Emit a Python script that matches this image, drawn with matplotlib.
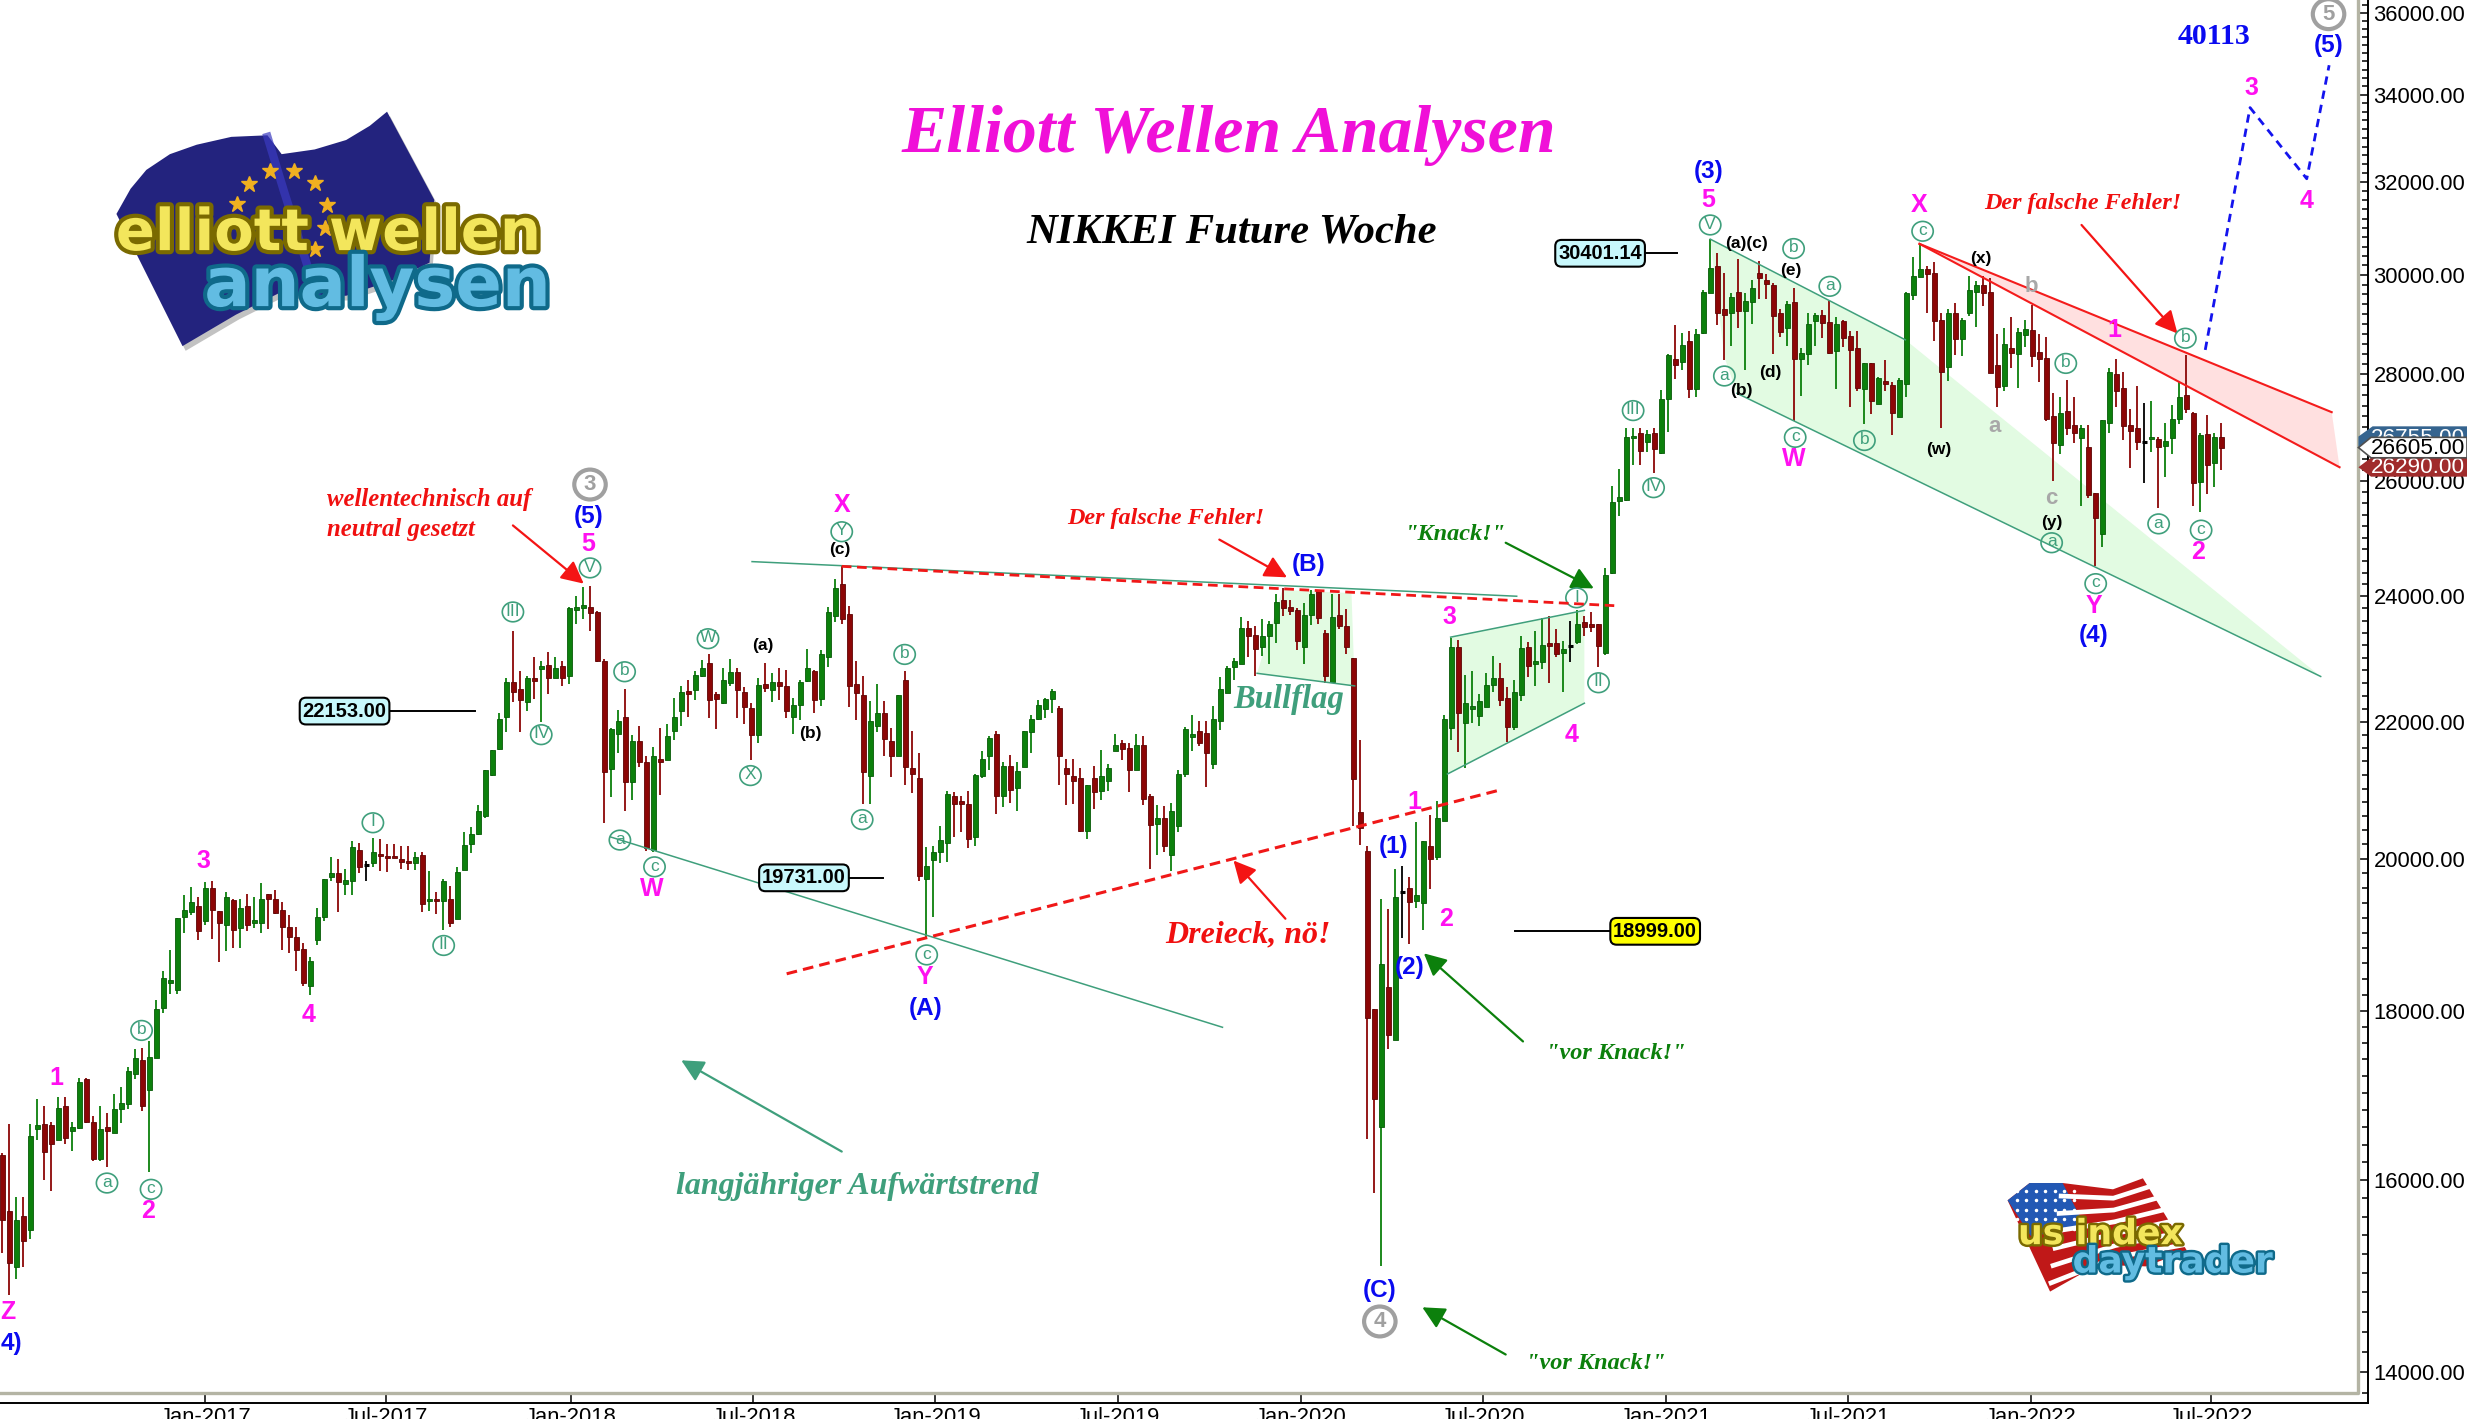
import numpy as np
import matplotlib
matplotlib.use("Agg")
import matplotlib.pyplot as plt
import matplotlib.patheffects as pe
from matplotlib.lines import Line2D
from matplotlib.patches import Polygon, Ellipse, FancyArrowPatch, FancyBboxPatch
from matplotlib.ticker import FixedLocator, NullFormatter, FuncFormatter
from matplotlib.transforms import Affine2D

# weekly candles
opens = [
    16285,15665,15068,15605,15452,16574,16637,16624,16457,16846,
    16556,16587,17158,16660,16231,16605,16533,16814,16873,17225,
    17387,17033,17417,18030,18345,18254,19203,19273,19353,19155,
    19599,19289,19107,19433,19059,19353,19123,19128,19519,19449,
    19305,19075,18949,18787,18305,18898,19203,19743,19802,19653,
    19701,20123,19915,19936,20067,20045,20045,19995,19973,19936,
    20050,19417,19449,19417,19449,19176,19845,20207,20347,20600,
    21204,21592,22078,22614,22505,22296,22671,22818,22886,22682,
    22865,22704,23777,23804,23826,23744,22948,21294,21816,22068,
    21100,21701,21393,20124,21438,21418,21861,22161,22473,22484,
    22704,22912,22432,22281,22598,22776,22452,22208,21791,22588,
    22489,22614,22557,22078,22250,22630,22786,22354,23016,23668,
    24204,23712,22588,22406,21189,21940,22125,21701,21478,22641,
    21309,21149,19720,19982,20100,20228,20890,20823,20771,20305,
    21179,21478,21811,20886,21339,21005,21318,21836,22047,22192,
    22354,22208,21309,21179,21154,20386,21149,20971,21105,21552,
    21677,21597,21269,21647,20895,20495,20576,20052,20457,21214,
    21761,21856,21826,21368,22016,22442,22850,22896,23479,23364,
    23177,23353,23560,23940,23820,23777,23177,23696,24096,23397,
    22619,23685,23516,23000,20662,20108,18023,16597,18299,17630,
    19550,19596,19427,19391,20172,20025,20535,21900,23174,21980,
    22189,22084,22224,22573,22672,22364,21920,22413,23167,22902,
    22923,23232,23232,23072,23180,23247,23572,23543,23551,23081,
    24390,25639,25663,26785,26877,26723,26877,26521,27516,28309,
    28250,28658,27713,28809,29623,30197,29301,29226,29651,29267,
    29452,30049,29897,29801,29226,28915,29438,28296,28401,29060,
    29171,29041,28467,29048,28757,28513,27713,28217,27433,27866,
    27796,27191,27809,29589,29952,30127,30049,29075,28152,29219,
    28704,29226,29658,29795,29651,28178,27777,28513,28395,28776,
    28868,28447,28316,27197,26657,27296,27032,26797,26631,25781,
    25053,27064,28000,27732,27032,26969,26720,26766,26772,26650,
    26785,27140,27599,27268,25988,26865,26332,26803,
]
closes = [
    15567,15106,15567,15332,16502,16619,16316,16411,16823,16475,
    16601,17134,16660,16231,16583,16551,16805,16882,17263,17411,
    16850,17431,18025,18411,18386,19193,19305,19407,19016,19599,
    19299,19128,19476,19032,19332,19107,19166,19449,19444,19267,
    19080,18944,18777,18345,18630,19214,19717,19802,19679,19706,
    20168,19883,19915,20095,20034,20006,20012,19957,19936,20022,
    19385,19449,19417,19690,19134,19813,20196,20353,20671,21269,
    21567,22042,22619,22458,22328,22682,22624,22865,22682,22834,
    22682,23804,23820,23853,23717,22948,21239,21890,22016,21100,
    21701,21398,20148,21488,21393,21786,22078,22452,22432,22723,
    22834,22328,22354,22641,22776,22489,22224,21791,22567,22520,
    22614,22546,22161,22260,22619,22834,22328,23054,23738,24147,
    23630,22546,22437,21239,22016,22125,21736,21478,22406,21318,
    21214,19766,19900,20095,20267,20919,20776,20776,20281,21204,
    21438,21756,20886,21339,20981,21259,21856,22042,22260,22348,
    22478,21478,21214,21105,20395,21045,20957,21179,21309,21642,
    21587,21269,21647,20852,20481,20576,20181,20671,21219,21890,
    21806,21677,21528,22042,22504,22834,22948,23479,23353,23141,
    23342,23543,23913,23804,23750,23272,23685,24040,23641,22702,
    23652,23516,23177,21139,20433,17912,16929,18587,17695,19476,
    19550,19415,19500,20248,19994,20580,22035,23174,22132,22286,
    22237,22314,22559,22672,22329,21920,22454,23152,22874,22944,
    23196,23189,23065,23138,23180,23536,23500,23500,23189,24362,
    25633,25722,26815,26834,26558,26870,26588,27528,28382,28191,
    28586,27720,28790,29651,30156,29226,29185,29548,29267,29466,
    29726,29945,29808,29164,28842,29404,28296,28415,29000,29178,
    29020,28428,29007,28711,28480,27745,28217,27478,27924,27815,
    27255,27892,29623,29973,30120,30021,29060,28050,29226,28704,
    29075,29686,29795,29637,28020,27752,28592,28428,28829,28901,
    28362,28296,27140,26688,27264,26985,26877,26969,25752,25337,
    27127,28038,27688,27013,26920,26723,26720,26803,26631,26741,
    27153,27560,27331,25957,26846,26301,26803,26601,
]
highs = [
    16300,16637,15808,15808,16637,16927,16841,16655,16945,16945,
    16660,17177,17177,16723,16846,16765,16986,17072,17306,17521,
    17536,17622,18137,18498,18767,19193,19503,19615,19476,19674,
    19690,19289,19545,19449,19449,19524,19476,19669,19524,19572,
    19407,19241,19070,18858,18676,19332,19728,20027,19995,19856,
    20252,20218,19968,20297,20274,20202,20202,20174,20174,20095,
    20095,19829,19545,19728,19621,19888,20370,20454,20766,21279,
    21567,22130,22676,23434,22780,22713,23005,22938,23087,23005,
    22938,23820,24005,24153,24181,23761,22974,21905,22182,22504,
    21801,21935,21488,21612,21906,21963,22364,22556,22644,22780,
    22964,23054,22464,22834,22974,22834,22536,22286,22671,22917,
    22755,22839,22807,22364,22650,23141,22807,23114,23820,24294,
    24520,23831,22948,22702,22322,22588,22312,21906,22406,22780,
    21856,21518,20162,20176,20466,20971,20948,20885,20971,21219,
    21548,21786,21856,21389,21493,21393,21856,22094,22338,22364,
    22504,22234,21438,21438,21299,21045,21339,21567,21364,21811,
    21726,21677,21811,21776,20919,20766,20743,20790,21269,21910,
    22094,22011,22006,22234,22687,22860,23000,23652,23598,23505,
    23625,23598,24034,24136,23940,23804,23885,24108,24108,23451,
    24034,24034,23793,23000,21726,20185,18023,19452,19313,19855,
    19903,19753,20516,20248,20618,20822,22105,23319,23283,22721,
    22779,22433,22758,23029,22909,22538,22643,23341,23247,23428,
    23645,23681,23464,23261,23594,23768,23681,23739,23551,24475,
    25911,26227,26969,26969,26969,26938,26969,27701,28401,28967,
    28824,28863,28895,29692,30753,30458,30049,29623,30345,29623,
    29900,30303,30021,29829,29295,29473,29726,28513,29226,29226,
    29281,29473,29144,29075,28862,28862,28230,28230,27955,28283,
    27853,27924,29658,30387,30655,30197,30268,29226,29295,29432,
    29110,29979,29884,29979,29932,28797,28908,29137,28908,29075,
    29384,28790,28730,27637,27560,27893,27560,27032,27032,25781,
    27127,28130,28309,28038,27331,27777,27452,27490,26803,27064,
    27413,27847,28382,27280,26877,27230,26877,27064,
]
lows = [
    15213,14770,14936,15068,15354,16457,16005,15876,16457,16407,
    16330,16578,16651,16212,16212,16149,16533,16651,16814,17162,
    16792,16090,17417,17966,18213,18213,18990,19235,18898,19107,
    18919,18620,18757,18797,18797,19016,19059,18990,19054,19246,
    18772,18736,18503,18305,18193,18843,19155,19690,19273,19503,
    19503,19808,19695,19883,19829,19824,20006,19856,19845,19851,
    19273,19294,19246,19032,19080,19176,19845,20084,20328,20576,
    21189,21577,21836,22296,21836,22156,22350,21995,22432,22682,
    22546,22589,23548,23630,23434,22922,20505,20876,21518,20676,
    20829,21318,20109,20100,20900,21418,21726,21937,22078,22328,
    22693,22052,21890,22271,22546,22052,21970,21418,21676,22452,
    22296,22328,22052,21811,22026,22619,22130,22234,22844,23576,
    23548,22218,22026,20776,20776,21841,21478,21164,21478,21055,
    20929,19689,18927,19203,19937,19960,20305,20371,20157,20181,
    21154,21269,20633,20728,20795,20681,21318,21528,22026,22052,
    22130,21055,20757,20776,20371,20276,20705,20829,20971,21552,
    21428,20957,21269,20757,19860,20050,20100,19838,20371,21169,
    21562,21627,21030,21289,21865,22442,22650,22896,23005,22704,
    23026,22896,23233,23668,23696,23125,22896,23533,23548,22598,
    22619,23467,23060,20457,20195,16469,15860,15073,17521,17630,
    18925,18845,19331,19040,19584,19982,20535,21727,21547,21300,
    21980,21927,22224,22461,22237,21687,21867,22322,22692,22552,
    22818,22594,23007,22461,22923,23211,23355,23406,22847,23043,
    24373,25385,25645,26294,26294,26527,26141,26496,26908,27911,
    28084,27541,27573,28790,29623,28974,28283,28559,28908,28085,
    29007,29514,29500,28395,28743,28566,27108,27586,28191,28566,
    28711,28401,27713,28533,27382,27688,27045,27242,27433,27688,
    26847,27178,27573,29486,29952,29226,28658,26980,27881,28382,
    28363,29164,28934,29370,28020,27382,27682,28118,27745,28533,
    28151,27847,27114,26006,26495,26847,26693,25545,25705,24503,
    24842,26877,27382,26755,26245,26570,25959,26527,25515,26080,
    26496,27045,27255,25545,25455,25764,25888,26209,
]

tick_pos = [29, 54.8, 81.2, 107.3, 133.3, 159.4, 185.5, 211.5, 237.6, 263.7, 289.8, 315.5]
tick_names = ["Jan-2017", "Jul-2017", "Jan-2018", "Jul-2018", "Jan-2019", "Jul-2019",
              "Jan-2020", "Jul-2020", "Jan-2021", "Jul-2021", "Jan-2022", "Jul-2022"]
price_ticks = [14000, 16000, 18000, 20000, 22000, 24000, 26000, 28000, 30000, 32000, 34000, 36000]

# projected path after wave 2
fc_idx = [314.7, 321.1, 329.2, 332.4]
fc_val = [28480, 33700, 32075, 34707]

# labels, positions in the 1568x902 picture
circled = [(68,752,"a"),(90,655,"b"),(96,756,"c"),(237,523,"I"),(282,601,"II"),(326,389,"III"),
           (344,467,"IV"),(375,361,"V"),(394,534,"a"),(397,427,"b"),(416,551,"c"),(450,406,"W"),
           (477,493,"X"),(535,338,"Y"),(548,521,"a"),(575,416,"b"),(589,607,"c"),(1002,380,"I"),
           (1016,434,"II"),(1038,261,"III"),(1051,310,"IV"),(1087,143,"V"),(1096,239,"a"),
           (1140,158,"b"),(1141,278,"c"),(1163,182,"a"),(1185,280,"b"),(1222,147,"c"),
           (1304,345,"a"),(1313,231,"b"),(1332,371,"c"),(1372,333,"a"),(1389,215,"b"),(1399,337,"c")]
blue_lbl = [(374,327,"(5)"),(588,640,"(A)"),(832,358,"(B)"),(886,537,"(1)"),(896,614,"(2)"),
            (877,819,"(C)"),(1086,108,"(3)"),(1331,403,"(4)"),(1480,28,"(5)"),(7,853,"4)")]
magenta_lbl = [(5,833,"Z"),(36,684,"1"),(94,769,"2"),(129,546,"3"),(196,644,"4"),(374,345,"5"),
               (535,320,"X"),(414,564,"W"),(588,620,"Y"),(899,509,"1"),(919,583,"2"),(921,391,"3"),
               (999,466,"4"),(1086,126,"5"),(1140,291,"W"),(1220,129,"X"),(1331,384,"Y"),
               (1344,209,"1"),(1397,350,"2"),(1431,55,"3"),(1466,127,"4")]
black_lbl = [(485,409,"(a)"),(515,465,"(b)"),(534,348,"(c)"),(1110,154,"(a)(c)"),(1138,171,"(e)"),
             (1125,236,"(d)"),(1107,247,"(b)"),(1259,163,"(x)"),(1232,285,"(w)"),(1304,331,"(y)")]
grey_lbl = [(1291,181,"b"),(1268,270,"a"),(1304,316,"c")]
grey_ring = [(375,308,"3"),(877,840,"4"),(1480,9,"5")]
price_boxes = [(219,452,"22153.00","#c8f8fc",302),(511,558,"19731.00","#c8f8fc",561),
               (1052,592,"18999.00","#ffff00",963),(1017,161,"30401.14","#c8f8fc",1066)]

GREEN = "#0c800c"
RED = "#8c0606"
MINT = "#3f9f7c"

fig = plt.figure(figsize=(24.67, 14.19), dpi=100, facecolor="white")
ax = fig.add_axes([0, 16.3/1419, 2368/2467, 1402.7/1419])
ax.patch.set_visible(False)
pic = Affine2D().scale(1/1568, -1/902).translate(0, 1) + fig.transFigure

x = np.arange(len(opens))
o = np.array(opens, float)
c = np.array(closes, float)
h = np.array(highs, float)
l = np.array(lows, float)
up = c > o
down = c < o
flat = c == o

ax.vlines(x[up], l[up], h[up], color=GREEN, lw=1.3, capstyle="butt", zorder=2)
ax.vlines(x[down], l[down], h[down], color=RED, lw=1.3, capstyle="butt", zorder=2)
ax.vlines(x[flat], l[flat], h[flat], color="black", lw=1.3, capstyle="butt", zorder=2)
ax.bar(x[up], (c - o)[up], bottom=o[up], width=0.7, color=GREEN, edgecolor="#075a07", lw=0.6, zorder=3)
ax.bar(x[down], (o - c)[down], bottom=c[down], width=0.7, color=RED, edgecolor="#5e0404", lw=0.6, zorder=3)
ax.hlines(c[flat], x[flat] - 0.35, x[flat] + 0.35, color="black", lw=2.2, zorder=3)
ax.plot(fc_idx, fc_val, color="#1414ee", lw=2, ls=(0, (3, 2.2)), zorder=4)

ax.set_yscale("log")
ax.set_xlim(-0.33, 337.95)
ax.set_ylim(13708, 36315)
ax.yaxis.tick_right()
ax.yaxis.set_major_locator(FixedLocator(price_ticks))
ax.yaxis.set_minor_locator(FixedLocator(np.arange(13800, 36300, 200)))
ax.yaxis.set_major_formatter(FuncFormatter(lambda v, p: f"{v:.2f}"))
ax.yaxis.set_minor_formatter(NullFormatter())
ax.set_xticks(tick_pos)
ax.set_xticklabels(tick_names)
ax.tick_params(axis="y", which="major", direction="in", length=7.5, width=1.1, pad=4, labelsize=15.8,
               labelfontfamily="Liberation Sans")
ax.tick_params(axis="y", which="minor", direction="in", length=4.5, width=1.1)
ax.tick_params(axis="x", direction="in", length=7, width=1.1, pad=3, labelsize=15.8,
               labelfontfamily="Liberation Sans")
ax.spines["top"].set_visible(False)
ax.spines["left"].set_visible(False)
ax.spines["right"].set_linewidth(1.4)
ax.spines["bottom"].set_linewidth(1.4)


def txt(px, py, s, **kw):
    kw.setdefault("ha", "center")
    kw.setdefault("va", "center")
    return fig.text(px / 1568, 1 - (py + 1.5) / 902, s, **kw)


def line(xs, ys, **kw):
    fig.add_artist(Line2D(xs, ys, transform=pic, **kw))


def poly(pts, **kw):
    fig.add_artist(Polygon(pts, closed=True, transform=pic, **kw))


def arrow(a, b, color, lw=1.6, size=34):
    fig.add_artist(FancyArrowPatch(a, b, transform=pic, arrowstyle="-|>", mutation_scale=size,
                                   color=color, lw=lw, shrinkA=0, shrinkB=0))


# inner grey frame of the chart window
line([0, 1499, 1499], [885.5, 885.5, 0], color="#b4b4a4", lw=2.4)

# shaded channels, under the candles
pale_green = "#e2fbe2"
poly([(1087,152),(1211,216),(1475,430),(1104,250),(1096,227)], fc=pale_green, ec="none", zorder=-1)
line([1087,1211], [152,216], color=MINT, lw=1.1)
line([1104,1475], [250,430], color=MINT, lw=1.1)
poly([(1220,155),(1482,262),(1487,297)], fc="#ffe0e0", ec="none", zorder=-1)
line([1220,1482], [155,262], color="#f41c1c", lw=1.5)
line([1220,1487], [155,297], color="#f41c1c", lw=1.5)
poly([(799,428),(815,375),(859,377),(861,436)], fc=pale_green, ec="none", zorder=-1)
line([799,861], [428,436], color=MINT, lw=1.1)
poly([(922,405),(1007,388),(1007,447),(920,492)], fc=pale_green, ec="none", zorder=-1)
line([922,1007], [405,388], color=MINT, lw=1.1)
line([920,1007], [492,447], color=MINT, lw=1.1)

# trend lines
line([478,964], [357,379], color=MINT, lw=1.1)
line([388,777], [532,653], color=MINT, lw=1.1)
line([535,1026], [360,385], color="#f01818", lw=2, ls=(0, (3.5, 2)))
line([500,954], [619,502], color="#f01818", lw=2.2, ls=(0, (3.5, 2)))

# arrows
for a, b in [((326,334),(371,371)), ((775,343),(818,367)), ((817,584),(784,547)), ((1323,143),(1384,212))]:
    arrow(a, b, "#f41414")
for a, b in [((957,345),(1013,374)), ((968,662),(905,606)), ((957,861),(904,831))]:
    arrow(a, b, "#0c800c")
arrow((535,732), (433,674), "#3f9f7c")

# wave labels
for px, py, s in circled:
    fig.add_artist(Ellipse((px, py), 13.5, 12.5, transform=pic, fc="none", ec=MINT, lw=1.2))
    txt(px, py - 2, s, color=MINT, fontsize=12.5, family="Liberation Sans")
for px, py, s in blue_lbl:
    txt(px, py - 0.5, s, color="#0a0af0", fontsize=17.5, fontweight="bold", family="Liberation Sans")
for px, py, s in magenta_lbl:
    txt(px, py - 0.5, s, color="#ff10f0", fontsize=18, fontweight="bold", family="Liberation Sans")
for px, py, s in black_lbl:
    txt(px, py - 0.5, s, color="black", fontsize=12.5, fontweight="bold", family="Liberation Sans")
for px, py, s in grey_lbl:
    txt(px, py - 0.5, s, color="#a8a8a8", fontsize=16, fontweight="bold", family="Liberation Sans")
for px, py, s in grey_ring:
    fig.add_artist(Ellipse((px, py), 20, 19, transform=pic, fc="none", ec="#a0a0a0", lw=3))
    txt(px, py - 1.5, s, color="#a0a0a0", fontsize=16, fontweight="bold", family="Liberation Sans")

# headline and comments
serif = dict(family="Liberation Serif", fontweight="bold", style="italic")
txt(781, 84.5, "Elliott Wellen Analysen", color="#f010d8", fontsize=48.8, **serif)
txt(783, 146, "NIKKEI Future Woche", color="black", fontsize=30.7, **serif)
txt(1407, 22, "40113", color="#0a0af0", fontsize=21.5, family="Liberation Serif", fontweight="bold")
txt(208, 316, "wellentechnisch auf", color="#f01010", fontsize=17.8, ha="left", **serif)
txt(208, 335, "neutral gesetzt", color="#f01010", fontsize=17.8, ha="left", **serif)
txt(741, 328, "Der falsche Fehler!", color="#f01010", fontsize=17.4, **serif)
txt(1324, 128, "Der falsche Fehler!", color="#f01010", fontsize=17.4, **serif)
txt(793, 593, "Dreieck, nö!", color="#f01010", fontsize=23, **serif)
txt(925, 338, '"Knack!"', color="#0c800c", fontsize=17.5, **serif)
txt(1027, 668, '"vor Knack!"', color="#0c800c", fontsize=17.5, **serif)
txt(1014, 865, '"vor Knack!"', color="#0c800c", fontsize=17.5, **serif)
txt(545, 753, "langjähriger Aufwärtstrend", color="#3f9f7c", fontsize=23, **serif)
txt(819, 443, "Bullflag", color="#3f9f7c", fontsize=23.5, **serif)

# boxed price levels
for px, py, s, col, end in price_boxes:
    line([px, end], [py, py], color="black", lw=1.4)
    fig.add_artist(FancyBboxPatch((px - 28.5, py - 8.5), 57, 17, boxstyle="round,pad=0,rounding_size=4",
                                  transform=pic, fc=col, ec="black", lw=1.5, zorder=3))
    txt(px, py - 1.5, s, color="black", fontsize=14.5, fontweight="bold", family="Liberation Sans", zorder=4)

# last price tags on the axis
poly([(1499,277.5),(1508,271),(1568,271),(1568,284),(1499,284)], fc="#35648f", ec="none", zorder=5)
txt(1537, 277.5, "26755.00", color="white", fontsize=16.2, family="Liberation Sans", zorder=5)
poly([(1499,297),(1507,291),(1568,291),(1568,303),(1507,303)], fc="#a02c2c", ec="none", zorder=5)
txt(1537, 295.5, "26290.00", color="white", fontsize=16.2, family="Liberation Sans", zorder=5)
poly([(1499,284.5),(1507,278),(1568,278),(1568,291),(1507,291)], fc="white", ec="#505050", lw=1.2, zorder=6)
txt(1537, 283.5, "26605.00", color="black", fontsize=16.2, family="Liberation Sans", zorder=7)

# logo top left
flag_eu = [(74,136),(83,120),(93,108),(108,98),(125,92),(147,87),(170,86),(179,98),(200,95),(220,89),
           (235,80),(246,71),(276,127),(273,167),(250,178),(220,188),(200,188),(178,186),(150,200),
           (116,220),(91,170)]
poly([(a + 2, b + 3) for a, b in flag_eu], fc="#a8a8a8", ec="none", alpha=0.7)
poly(flag_eu, fc="#23237e", ec="none")
line([170,180,202], [87,120,190], color="#3a3ac0", lw=6, alpha=0.7)
stars_x = [171.6,187.1,200.2,207.6,206.6,200.2,158.1,150.4]
stars_y = [108.7,108.7,116.5,130.3,145.1,158.5,117,129.7]
line(stars_x, stars_y, ls="none", marker="*", ms=12, color="#f0b020")
txt(209, 147, "elliott wellen", color="#f3e65c", fontsize=41.5, fontweight="bold", family="DejaVu Sans",
    path_effects=[pe.withStroke(linewidth=6, foreground="#7a6a00")])
txt(240, 181, "analysen", color="#62bce2", fontsize=49.5, fontweight="bold", family="DejaVu Sans",
    path_effects=[pe.withStroke(linewidth=6, foreground="#0f6a8a")])

# logo bottom right
poly([(1276,763),(1290,752),(1311,752),(1343,756),(1362,749),(1390,795),(1364,805),(1333,804),(1303,821)],
     fc="#c01818", ec="none")
top_x, top_y = np.array([1311,1343,1362.]), np.array([752,756,749.])
bot_x, bot_y = np.array([1303,1345,1390.]), np.array([821,803,795.])
for t in [0.12, 0.28, 0.44, 0.6, 0.76, 0.92]:
    line(top_x + (bot_x - top_x) * t, top_y + (bot_y - top_y) * t, color="white", lw=3.4)
poly([(1276,763),(1290,752),(1311,752),(1325,779),(1291,786)], fc="#2258b4", ec="none")
for py in range(757, 786, 6):
    line(np.arange(1282, 1322, 6), np.full(7, py), ls="none", marker=".", ms=3, color="white")
txt(1335, 783, "us index", color="#f3e65c", fontsize=25, fontweight="bold", family="DejaVu Sans",
    path_effects=[pe.withStroke(linewidth=3.5, foreground="#7a6a00")])
txt(1381, 801, "daytrader", color="#62bce2", fontsize=26, fontweight="bold", family="DejaVu Sans",
    path_effects=[pe.withStroke(linewidth=3.5, foreground="#0f6a8a")])

fig.savefig("out.png", dpi=100, facecolor="white")
